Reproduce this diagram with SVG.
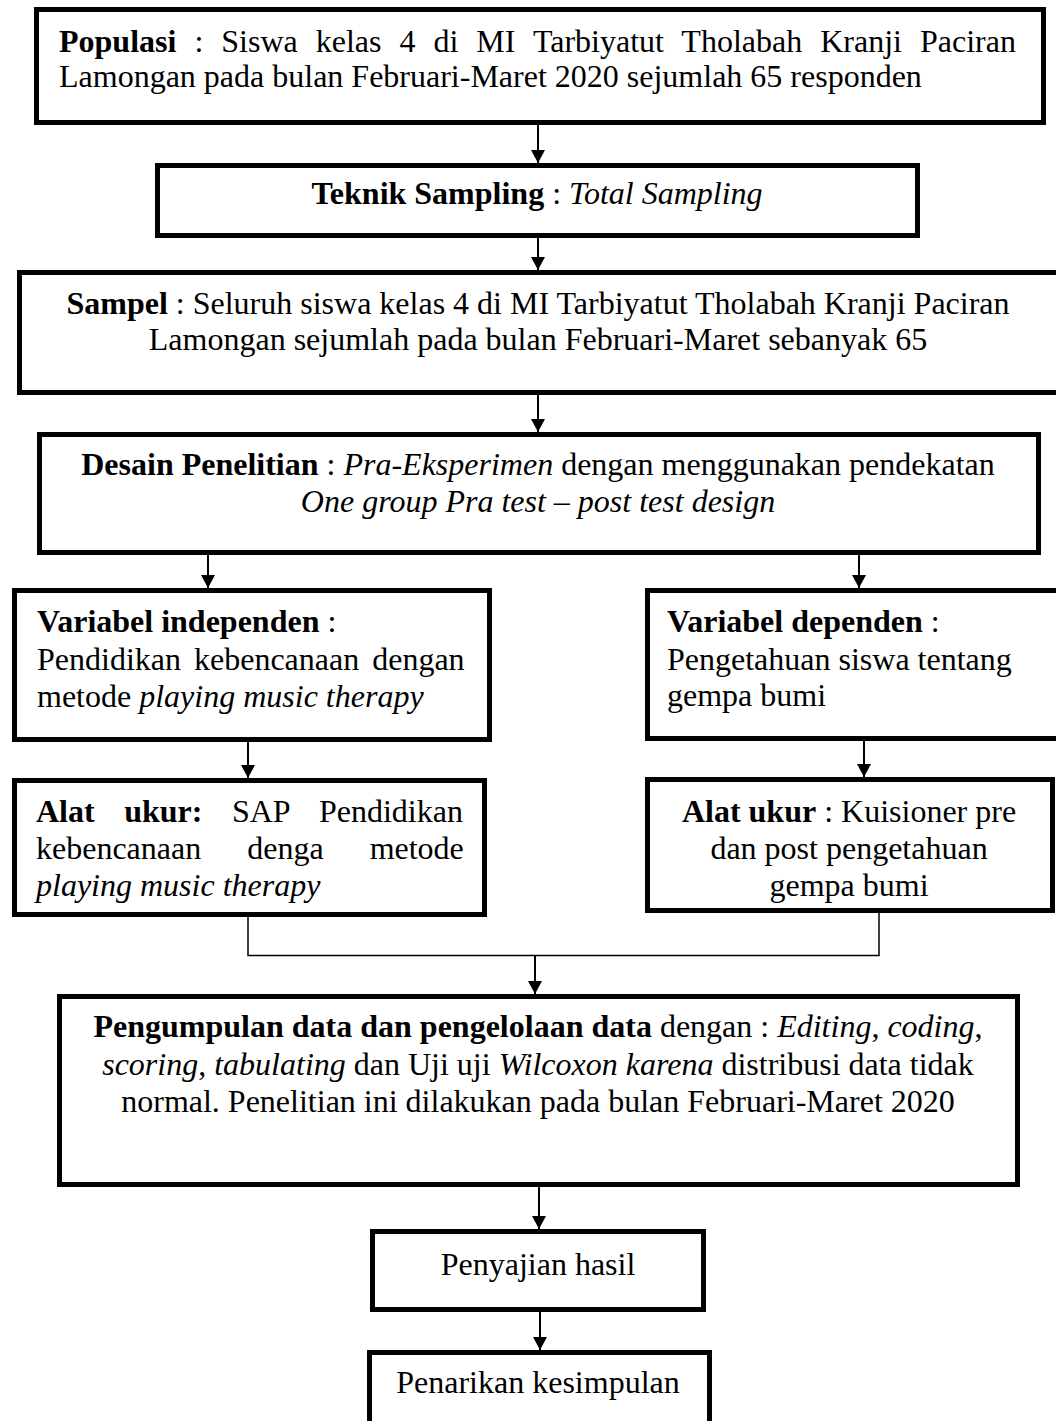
<svg xmlns="http://www.w3.org/2000/svg" width="1056" height="1421" viewBox="0 0 1056 1421">
<style>
.box{fill:#fff;stroke:#000;stroke-width:5}
.t{font-family:"Liberation Serif","Times New Roman",serif;font-size:32px;fill:#000}
.c{text-anchor:middle}
.b{font-weight:bold}
.i{font-style:italic}
.arr{stroke:#000;stroke-width:2;fill:none;marker-end:url(#ah)}
.thin{stroke:#000;stroke-width:1.5;fill:none}
</style>
<defs>
<marker id="ah" markerUnits="userSpaceOnUse" viewBox="0 0 13 14" refX="13" refY="7" markerWidth="13" markerHeight="14" orient="auto">
<path d="M0,0 L13,7 L0,14 z" fill="#000"/>
</marker>
</defs>
<rect width="1056" height="1421" fill="#fff"/>

<g id="connectors">
<line class="arr" x1="538" y1="125" x2="538" y2="163"/>
<line class="arr" x1="538" y1="238" x2="538" y2="270"/>
<line class="arr" x1="538" y1="395" x2="538" y2="432"/>
<line class="arr" x1="208" y1="555" x2="208" y2="588"/>
<line class="arr" x1="859" y1="555" x2="859" y2="588"/>
<line class="arr" x1="248" y1="742" x2="248" y2="778"/>
<line class="arr" x1="864" y1="741" x2="864" y2="777"/>
<polyline class="thin" points="248,917 248,955.5 879,955.5 879,913"/>
<line class="arr" x1="535" y1="955" x2="535" y2="994"/>
<line class="arr" x1="539" y1="1187" x2="539" y2="1229"/>
<line class="arr" x1="540" y1="1312" x2="540" y2="1350"/>
</g>

<g id="populasi">
<rect class="box" x="36.5" y="9.5" width="1007" height="113"/>
<text class="t" x="59" y="52" word-spacing="10"><tspan class="b">Populasi</tspan> : Siswa kelas 4 di MI Tarbiyatut Tholabah Kranji Paciran</text>
<text class="t" x="59" y="87">Lamongan pada bulan Februari-Maret 2020 sejumlah 65 responden</text>
</g>

<g id="teknik-sampling">
<rect class="box" x="157.5" y="165.5" width="760" height="70"/>
<text class="t c" x="537" y="204"><tspan class="b">Teknik Sampling</tspan> : <tspan class="i">Total Sampling</tspan></text>
</g>

<g id="sampel">
<rect class="box" x="19.5" y="272.5" width="1050" height="120"/>
<text class="t c" x="538" y="314"><tspan class="b">Sampel</tspan> : Seluruh siswa kelas 4 di MI Tarbiyatut Tholabah Kranji Paciran</text>
<text class="t c" x="538" y="350">Lamongan sejumlah pada bulan Februari-Maret sebanyak 65</text>
</g>

<g id="desain">
<rect class="box" x="39.5" y="434.5" width="999" height="118"/>
<text class="t c" x="538" y="475"><tspan class="b">Desain Penelitian</tspan> : <tspan class="i">Pra-Eksperimen</tspan> dengan menggunakan pendekatan</text>
<text class="t c i" x="538" y="512">One group Pra test – post test design</text>
</g>

<g id="variabel-independen">
<rect class="box" x="14.5" y="590.5" width="475" height="149"/>
<text class="t" x="37" y="632"><tspan class="b">Variabel independen</tspan> :</text>
<text class="t" x="37" y="670" word-spacing="5">Pendidikan kebencanaan dengan</text>
<text class="t" x="37" y="707">metode <tspan class="i">playing music therapy</tspan></text>
</g>

<g id="variabel-dependen">
<rect class="box" x="647.5" y="590.5" width="420" height="148"/>
<text class="t" x="667" y="632"><tspan class="b">Variabel dependen</tspan> :</text>
<text class="t" x="667" y="670">Pengetahuan siswa tentang</text>
<text class="t" x="667" y="706">gempa bumi</text>
</g>

<g id="alat-ukur-1">
<rect class="box" x="14.5" y="780.5" width="470" height="134"/>
<text class="t" x="36" y="822" word-spacing="21.5"><tspan class="b">Alat ukur:</tspan> SAP Pendidikan</text>
<text class="t" x="36" y="859" word-spacing="38">kebencanaan denga metode</text>
<text class="t i" x="36" y="896">playing music therapy</text>
</g>

<g id="alat-ukur-2">
<rect class="box" x="647.5" y="779.5" width="405" height="131"/>
<text class="t c" x="849" y="822"><tspan class="b">Alat ukur</tspan> : Kuisioner pre</text>
<text class="t c" x="849" y="859">dan post pengetahuan</text>
<text class="t c" x="849" y="896">gempa bumi</text>
</g>

<g id="pengumpulan">
<rect class="box" x="59.5" y="996.5" width="958" height="188"/>
<text class="t c" x="538" y="1037"><tspan class="b">Pengumpulan data dan pengelolaan data</tspan> dengan : <tspan class="i">Editing</tspan>, <tspan class="i">coding</tspan>,</text>
<text class="t c" x="538" y="1075"><tspan class="i">scoring</tspan>, <tspan class="i">tabulating</tspan> dan Uji uji <tspan class="i">Wilcoxon karena</tspan> distribusi data tidak</text>
<text class="t c" x="538" y="1112">normal. Penelitian ini dilakukan pada bulan Februari-Maret 2020</text>
</g>

<g id="penyajian">
<rect class="box" x="372.5" y="1231.5" width="331" height="78"/>
<text class="t c" x="538" y="1275">Penyajian hasil</text>
</g>

<g id="penarikan">
<rect class="box" x="369.5" y="1352.5" width="340" height="100"/>
<text class="t c" x="538" y="1393">Penarikan kesimpulan</text>
</g>
</svg>
